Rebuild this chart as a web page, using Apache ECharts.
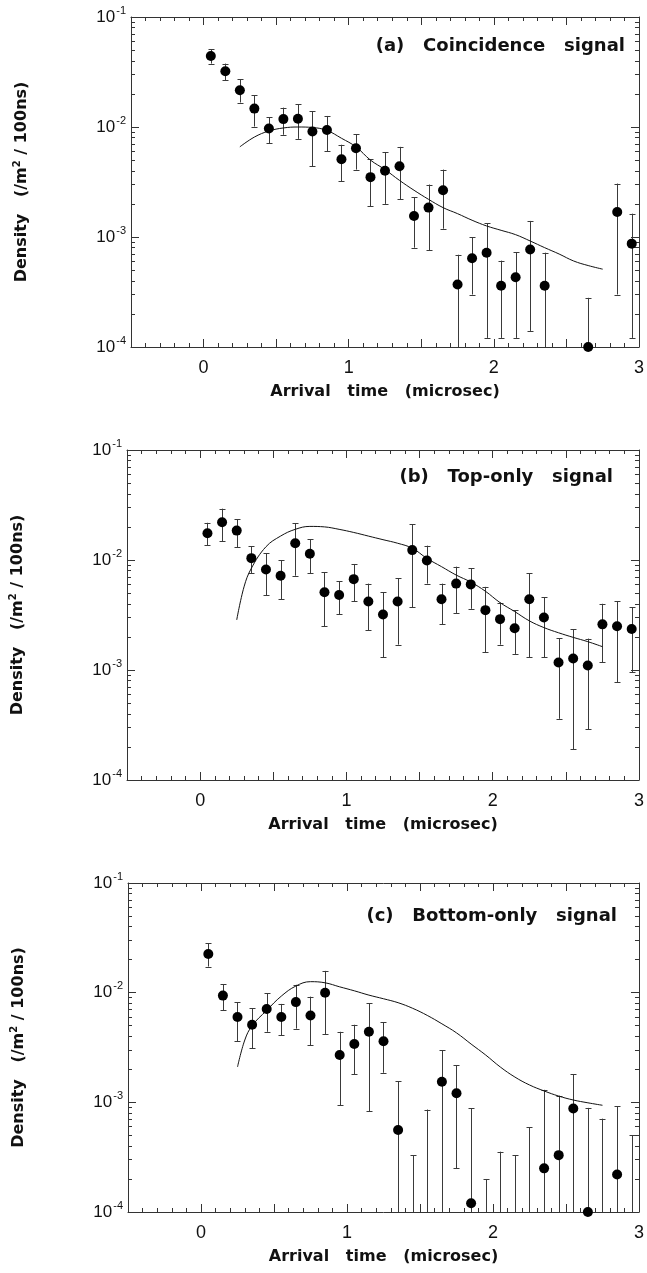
<!DOCTYPE html>
<html><head><meta charset="utf-8">
<script src="https://cdn.jsdelivr.net/npm/echarts@6/dist/echarts.min.js"></script>
<style>html,body{margin:0;padding:0;background:#fff}#c{width:647px;height:1273px}</style>
</head><body><div id="c"></div>
<script>
// ---- data ----
const binX = [0.05,0.15,0.25,0.35,0.45,0.55,0.65,0.75,0.85,0.95,1.05,1.15,1.25,1.35,1.45,1.55,1.65,1.75,1.85,1.95,2.05,2.15,2.25,2.35,2.45,2.55,2.65,2.75,2.85,2.95];
const xTickLabels = [0, 1, 2, 3];
const yExponents = [-4, -3, -2, -1];
const panelTitles = ['(a)   Coincidence   signal', '(b)   Top-only   signal', '(c)   Bottom-only   signal'];

// (a) Coincidence signal   (low 0 = bar runs to the axis bottom)
const aVal  = [0.0442,0.0321,0.0216,0.0147,0.0097,0.0118,0.0119,0.0091,0.0094,0.0051,0.0064,0.0035,0.0040,0.0044,0.00155,0.00185,0.00266,0.00037,0.00064,0.00072,0.00036,0.00043,0.00077,0.00036,null,null,0.0001,null,0.00169,0.00087];
const aLow  = [0.0377,0.0266,0.0167,0.0101,0.0071,0.0085,0.0078,0.0044,0.0060,0.0032,0.0041,0.0019,0.0020,0.0022,0.0008,0.00076,0.00119,0,0.0003,0.000121,0.000121,0.000121,0.00014,0,null,null,0,null,0.0003,0.000121];
const aHigh = [0.0508,0.0377,0.0272,0.0194,0.0123,0.0150,0.0161,0.0139,0.0126,0.0069,0.0086,0.0051,0.0059,0.0066,0.0023,0.0030,0.0041,0.00069,0.0010,0.00133,0.00061,0.00073,0.0014,0.00072,null,null,0.00028,null,0.00306,0.00163];
const aCurveX = [0.25,0.35,0.45,0.55,0.65,0.75,0.85,0.95,1.05,1.15,1.25,1.35,1.45,1.55,1.65,1.75,1.85,1.95,2.05,2.15,2.25,2.35,2.45,2.55,2.65,2.75];
const aCurveY = [0.0066,0.0081,0.0092,0.0098,0.0100,0.0099,0.0093,0.0079,0.0066,0.0050,0.0041,0.00327,0.00266,0.0022,0.00185,0.00163,0.00142,0.00126,0.00115,0.00105,0.00092,0.0008,0.0007,0.000605,0.00055,0.00051];

// (b) Top-only signal
const bVal  = [0.0175,0.0220,0.0185,0.0104,0.0082,0.0072,0.0142,0.0114,0.0051,0.0048,0.0067,0.0042,0.0032,0.0042,0.0123,0.0099,0.0044,0.0061,0.0060,0.0035,0.0029,0.0024,0.0044,0.0030,0.00117,0.00127,0.0011,0.0026,0.0025,0.00236];
const bLow  = [0.0136,0.0148,0.0131,0.0076,0.0048,0.0044,0.0072,0.0076,0.0025,0.0032,0.0042,0.0023,0.0013,0.0017,0.0037,0.0061,0.0026,0.0033,0.0036,0.00145,0.0017,0.0014,0.0013,0.0013,0.00036,0.00019,0.00029,0.00118,0.00077,0.00095];
const bHigh = [0.0218,0.0293,0.0234,0.0134,0.0115,0.0100,0.0216,0.0154,0.0077,0.0064,0.0092,0.0061,0.0051,0.0068,0.0211,0.0135,0.0061,0.0087,0.0084,0.0057,0.0041,0.0035,0.0076,0.0046,0.00195,0.00234,0.00193,0.0040,0.0042,0.0037];
const bCurveX = [0.25,0.30,0.35,0.45,0.55,0.65,0.75,0.85,0.95,1.05,1.15,1.25,1.35,1.45,1.55,1.65,1.75,1.85,1.95,2.05,2.15,2.25,2.35,2.45,2.55,2.65,2.75];
const bCurveY = [0.00285,0.0057,0.0084,0.0132,0.0165,0.019,0.0202,0.0200,0.019,0.0178,0.0165,0.0153,0.0142,0.0128,0.01035,0.0087,0.0073,0.0063,0.0052,0.0041,0.0034,0.0028,0.00243,0.00218,0.00198,0.00181,0.00163];

// (c) Bottom-only signal
const cVal  = [0.0225,0.0094,0.0060,0.0051,0.0071,0.0060,0.0082,0.0062,0.0100,0.0027,0.0034,0.0044,0.0036,0.00056,null,null,0.00154,0.00121,0.00012,null,null,null,null,0.00025,0.00033,0.00088,0.0001,null,0.00022,null];
const cLow  = [0.0173,0.0069,0.0036,0.0031,0.0044,0.0041,0.0047,0.0033,0.0042,0.00094,0.0018,0.00083,0.00186,0,0,0,0,0.00025,0,0,0,0,0,0,0,0,0,0,0,0];
const cHigh = [0.0282,0.0119,0.0082,0.0072,0.0099,0.0079,0.0118,0.0092,0.0158,0.0044,0.0051,0.0080,0.0054,0.00155,0.00033,0.00086,0.0030,0.00217,0.00088,0.0002,0.000355,0.00033,0.00059,0.0013,0.00115,0.0018,0.00089,0.00071,0.00092,0.0005];
const cCurveX = [0.25,0.30,0.35,0.45,0.55,0.65,0.75,0.85,0.95,1.05,1.15,1.25,1.35,1.45,1.55,1.65,1.75,1.85,1.95,2.05,2.15,2.25,2.35,2.45,2.55,2.65,2.75];
const cCurveY = [0.0021,0.0037,0.0050,0.0069,0.0093,0.0115,0.0126,0.0123,0.0113,0.0104,0.0095,0.0088,0.0081,0.0072,0.0062,0.0052,0.0043,0.0034,0.0027,0.0021,0.0017,0.00144,0.00127,0.00114,0.00105,0.00099,0.00094];

// ---- layout ----
const grids = [
  {left: 131, top: 17, width: 515, height: 330},
  {left: 126, top: 450, width: 513, height: 330},
  {left: 128, top: 883, width: 517, height: 329}
];
const titlePos = [{right: 22, top: 37}, {right: 34, top: 468}, {right: 30, top: 907}];
const panels = [
  {val: aVal, low: aLow, high: aHigh, cx: aCurveX, cy: aCurveY},
  {val: bVal, low: bLow, high: bHigh, cx: bCurveX, cy: bCurveY},
  {val: cVal, low: cLow, high: cHigh, cx: cCurveX, cy: cCurveY}
];

const FONT = 'Liberation Sans';
const BFONT = 'DejaVu Sans';
const AX = '#333';
const Y_MIN = Math.pow(10, yExponents[0]);
const Y_MAX = Math.pow(10, yExponents[yExponents.length - 1]);

const xAxes = [], yAxes = [], series = [], titles = [];

panels.forEach((p, i) => {
  const common = {
    gridIndex: i, min: -0.5, max: 3, interval: 0.5,
    axisLine: {show: true, onZero: false, lineStyle: {color: AX, width: 1}},
    axisTick: {show: true, inside: true, length: 8, lineStyle: {color: AX}},
    minorTick: {show: true, splitNumber: 5, length: 4, lineStyle: {color: AX}},
    splitLine: {show: false}, minorSplitLine: {show: false}
  };
  xAxes.push(Object.assign({}, common, {
    type: 'value', position: 'bottom',
    axisLabel: {
      margin: 12, fontFamily: FONT, fontSize: 18, color: '#111',
      formatter: v => (xTickLabels.indexOf(v) >= 0 ? String(v) : '')
    },
    name: 'Arrival   time   (microsec)', nameLocation: 'middle', nameGap: 37,
    nameTextStyle: {fontFamily: BFONT, fontWeight: 'bold', fontSize: 16, color: '#111'}
  }));
  xAxes.push(Object.assign({}, common, {type: 'value', position: 'top', axisLabel: {show: false}}));

  const ycommon = {
    gridIndex: i, type: 'log', logBase: 10, min: Y_MIN, max: Y_MAX,
    axisLine: {show: true, onZero: false, lineStyle: {color: AX, width: 1}},
    axisTick: {show: true, inside: true, length: 8, lineStyle: {color: AX}},
    minorTick: {show: true, splitNumber: 9, length: 4, lineStyle: {color: AX}},
    splitLine: {show: false}, minorSplitLine: {show: false}
  };
  yAxes.push(Object.assign({}, ycommon, {
    position: 'left',
    axisLabel: {
      margin: 5, color: '#111',
      formatter: v => {
        const e = Math.round(Math.log10(v));
        return yExponents.indexOf(e) >= 0 ? '{b|10}{s|' + e + '}' : '';
      },
      rich: {
        b: {fontFamily: FONT, fontSize: 17, color: '#111'},
        s: {fontFamily: FONT, fontSize: 11, color: '#111', padding: [0, 0, 13, 1]}
      }
    },
    name: 'Density   (/m{s|2} / 100ns)', nameLocation: 'middle', nameGap: 100,
    nameTextStyle: {
      fontFamily: BFONT, fontWeight: 'bold', fontSize: 16, color: '#111',
      rich: {s: {fontFamily: BFONT, fontWeight: 'bold', fontSize: 10, color: '#111', padding: [0, 0, 9, 0]}}
    }
  }));
  yAxes.push(Object.assign({}, ycommon, {position: 'right', axisLabel: {show: false}}));

  const xi = 2 * i, yi = 2 * i;

  // error bars
  const errData = [];
  binX.forEach((x, k) => { if (p.high[k] != null) errData.push([x, p.low[k], p.high[k]]); });
  series.push({
    type: 'custom', xAxisIndex: xi, yAxisIndex: yi, data: errData,
    encode: {x: 0, y: 2}, z: 2, silent: true,
    renderItem: (params, api) => {
      const x = api.value(0), lo = api.value(1), hi = api.value(2);
      const t = api.coord([x, hi]);
      const b = api.coord([x, lo > 0 ? lo : Y_MIN]);
      const px = Math.round(t[0]) + 0.5;
      const st = {stroke: '#3a3a3a', lineWidth: 1};
      const ch = [
        {type: 'line', shape: {x1: px, y1: t[1], x2: px, y2: b[1]}, style: st},
        {type: 'line', shape: {x1: px - 3, y1: Math.round(t[1]) + 0.5, x2: px + 3, y2: Math.round(t[1]) + 0.5}, style: st}
      ];
      if (lo > 0) ch.push({type: 'line', shape: {x1: px - 3, y1: Math.round(b[1]) + 0.5, x2: px + 3, y2: Math.round(b[1]) + 0.5}, style: st});
      return {type: 'group', children: ch};
    }
  });

  // points
  const pts = [];
  binX.forEach((x, k) => { if (p.val[k] != null) pts.push([x, p.val[k]]); });
  series.push({
    type: 'scatter', xAxisIndex: xi, yAxisIndex: yi, data: pts,
    symbol: 'circle', symbolSize: 10, itemStyle: {color: '#000', opacity: 1}, z: 3, clip: false, silent: true
  });

  // model curve
  series.push({
    type: 'line', xAxisIndex: xi, yAxisIndex: yi,
    data: p.cx.map((x, k) => [x, p.cy[k]]),
    showSymbol: false, smooth: 0.4, lineStyle: {color: '#111', width: 1}, z: 2, silent: true
  });

  titles.push(Object.assign({
    text: panelTitles[i], padding: 0,
    textStyle: {fontFamily: BFONT, fontWeight: 'bold', fontSize: 18, color: '#111'}
  }, titlePos[i]));
});

const chart = echarts.init(document.getElementById('c'), null, {renderer: 'canvas'});
chart.setOption({
  animation: false,
  backgroundColor: '#fff',
  title: titles,
  grid: grids,
  xAxis: xAxes,
  yAxis: yAxes,
  series: series
});
</script>
</body></html>
